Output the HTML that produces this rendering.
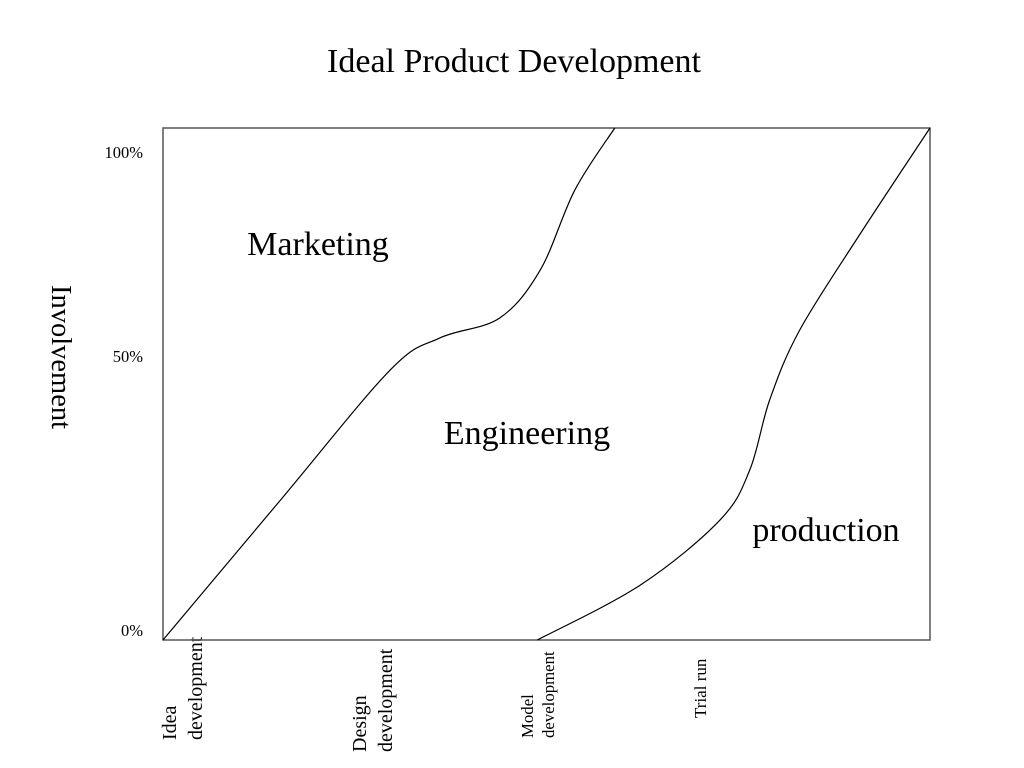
<!DOCTYPE html>
<html><head><meta charset="utf-8"><style>
body{margin:0;background:#fff}
svg{display:block}
text{font-family:"Liberation Serif",serif;fill:#000}
</style></head><body>
<svg width="1024" height="768" viewBox="0 0 1024 768">
<text x="514" y="72" font-size="34" text-anchor="middle">Ideal Product Development</text>
<text transform="translate(52,357) rotate(90)" font-size="28.5" text-anchor="middle">Involvement</text>
<g id="ticks"></g>
<g id="xlabels"></g>
<rect x="163" y="128" width="767" height="512" fill="none" stroke="#555" stroke-width="1.5"/>
<g id="curves"></g>
<text x="318" y="255" font-size="34" text-anchor="middle">Marketing</text>
<text x="527" y="444" font-size="34" text-anchor="middle">Engineering</text>
<text x="826" y="541" font-size="34" text-anchor="middle">production</text>
</svg>
<script>
const tickLabels = ["0%", "50%", "100%"];
const tickPixelY = [631, 357, 153];
const marketingBoundaryX = [0, 0.153, 0.296, 0.361, 0.439, 0.492, 0.537, 0.589];
const marketingBoundaryY = [0, 0.273, 0.527, 0.590, 0.629, 0.723, 0.879, 1];
const productionBoundaryX = [0.488, 0.622, 0.726, 0.765, 0.791, 0.830, 0.908, 1];
const productionBoundaryY = [0, 0.107, 0.234, 0.332, 0.469, 0.605, 0.791, 1];
const stageLabels = [["Idea","development"],["Design","development"],["Model","development"],["Trial run"]];

const NS = "http://www.w3.org/2000/svg";
const X0 = 163, W = 767, Y0 = 640, H = 512;
const sx = v => X0 + v * W;
const sy = v => Y0 - v * H;

const tg = document.getElementById("ticks");
tickLabels.forEach((t, i) => {
  const el = document.createElementNS(NS, "text");
  el.setAttribute("x", 143); el.setAttribute("y", tickPixelY[i] + 5);
  el.setAttribute("font-size", "16.5"); el.setAttribute("text-anchor", "end");
  el.textContent = t;
  
  
  tg.appendChild(el);
});

function smoothPath(xs, ys) {
  const p = xs.map((x, i) => [sx(x), sy(ys[i])]);
  let d = "M" + p[0][0] + "," + p[0][1];
  for (let i = 0; i < p.length - 1; i++) {
    const a = p[i - 1] || p[i], b = p[i], c = p[i + 1], e = p[i + 2] || c;
    const c1 = [b[0] + (c[0] - a[0]) / 6, b[1] + (c[1] - a[1]) / 6];
    const c2 = [c[0] - (e[0] - b[0]) / 6, c[1] - (e[1] - b[1]) / 6];
    d += " C" + c1 + " " + c2 + " " + c;
  }
  return d;
}
const cg = document.getElementById("curves");
[[marketingBoundaryX, marketingBoundaryY, "marketing-engineering-boundary"],
 [productionBoundaryX, productionBoundaryY, "engineering-production-boundary"]].forEach(s => {
  const el = document.createElementNS(NS, "path");
  el.setAttribute("d", smoothPath(s[0], s[1]));
  el.setAttribute("fill", "none"); el.setAttribute("stroke", "#000"); el.setAttribute("stroke-width", "1.2");
  
  
  cg.appendChild(el);
});

const xg = document.getElementById("xlabels");
const labelPos = [[176, 740, 20, 26], [366, 752, 20, 26], [533, 738, 16.8, 21], [706, 718, 17, 21]];
stageLabels.forEach((lines, i) => {
  const [x, y, fs, lh] = labelPos[i];
  const el = document.createElementNS(NS, "text");
  el.setAttribute("transform", "translate(" + x + "," + y + ") rotate(-90)");
  el.setAttribute("font-size", fs);
  lines.forEach((ln, j) => {
    const ts = document.createElementNS(NS, "tspan");
    ts.setAttribute("x", 0); ts.setAttribute("y", j * lh);
    ts.textContent = ln;
    el.appendChild(ts);
  });
  
  
  xg.appendChild(el);
});
</script>
</body></html>
